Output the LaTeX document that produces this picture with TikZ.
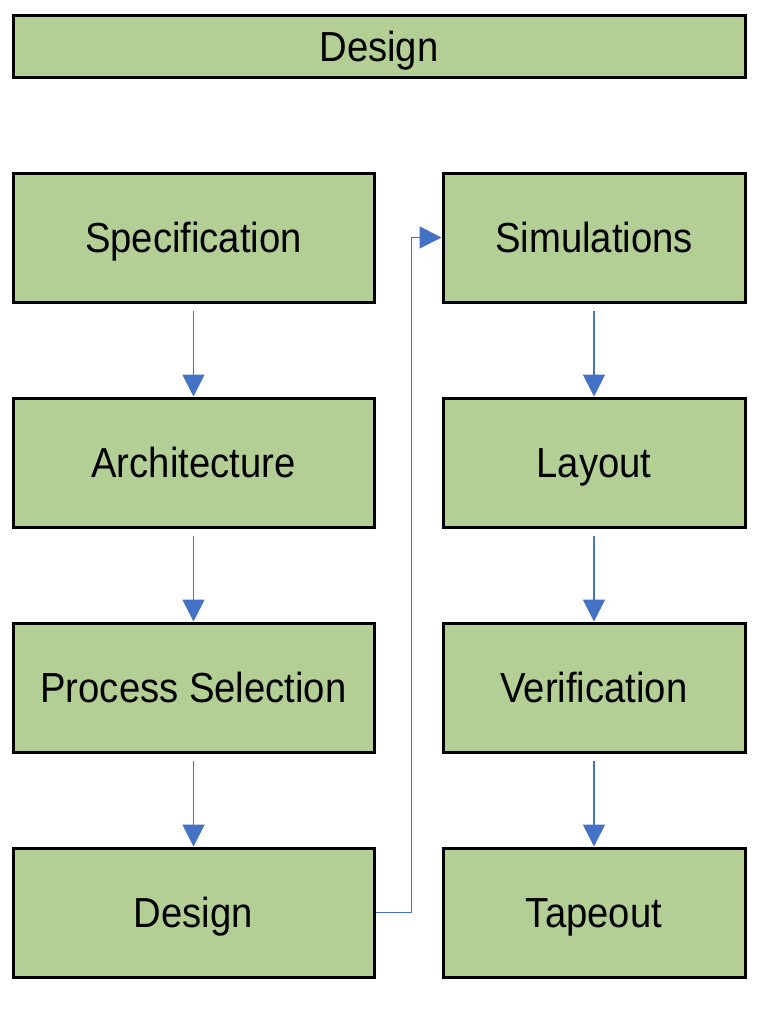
\documentclass[tikz,border=0pt]{standalone}
\usepackage{fontspec}
\setmainfont{Liberation Sans}
\usetikzlibrary{positioning,arrows.meta}
\definecolor{stepgreen}{HTML}{B3CF96}
\definecolor{flowblue}{HTML}{4472C4}
\newcommand{\tallname}[1]{\scalebox{1.02}[1.12]{#1}}

\begin{document}
\begin{tikzpicture}[x=1pt,y=-1pt,
  every node/.style={font=\fontsize{37.5}{44}\selectfont},
  stage/.style={draw=black,line width=3pt,fill=stepgreen,inner sep=0pt,
    minimum height=129pt,text height=30pt,text depth=0pt},
  leftstage/.style={stage,minimum width=361pt},
  rightstage/.style={stage,minimum width=302pt},
  flow/.style={draw=flowblue,line width=1.8pt,
    -{Triangle[width=22pt,length=22pt]}}]
\useasboundingbox (0,0) rectangle (768,1012);
\node[stage,minimum width=732pt,minimum height=62pt] (top) at (379,46) {\tallname{Design}};
% left column
\node[leftstage] (spec) at (193.5,237.5) {\tallname{Specification}};
\node[leftstage] (arch) at (193.5,462.5) {\tallname{Architecture}};
\node[leftstage] (proc) at (193.5,687.5) {\tallname{Process Selection}};
\node[leftstage] (des) at (193.5,912.5) {\tallname{Design}};
% right column
\node[rightstage] (sim) at (594,237.5) {\tallname{Simulations}};
\node[rightstage] (lay) at (594,462.5) {\tallname{Layout}};
\node[rightstage] (ver) at (594,687.5) {\tallname{Verification}};
\node[rightstage] (tape) at (594,912.5) {\tallname{Tapeout}};
% connectors
\foreach \a/\b in {spec/arch,arch/proc,proc/des,sim/lay,lay/ver,ver/tape}
  \draw[flow,shorten <=7pt] (\a.south) -- (\b.north);
\draw[flow] (des.east) -- ++(36,0) |- (sim.west);
\end{tikzpicture}
\end{document}
